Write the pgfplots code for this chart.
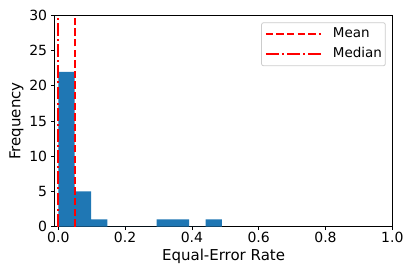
\documentclass[border=0pt]{standalone}
\usepackage{fontspec}
\setmainfont{DejaVu Sans}
\usepackage{pgfplots}
\pgfplotsset{compat=1.18}
\definecolor{tabblue}{HTML}{1F77B4}
\begin{document}
\begin{tikzpicture}
\path[use as bounding box] (-54.8pt,-50.5pt) rectangle (360.2pt,226.5pt);
\begin{axis}[
  scale only axis,
  width=337.5pt, height=211pt,
  xmin=-0.0105, xmax=1.0,
  ymin=0, ymax=30,
  xtick={0,0.2,0.4,0.6,0.8,1.0},
  ytick={0,5,10,15,20,25,30},
  xtick pos=bottom, ytick pos=left,
  tick align=outside,
  major tick length=3.5pt,
  tick style={black, line width=0.8pt},
  axis line style={black, line width=0.8pt},
  /pgf/number format/assume math mode=true,
  x tick label style={/pgf/number format/.cd, fixed, fixed zerofill, precision=1, /tikz/.cd, font=\fontsize{14}{16}\selectfont, inner sep=0pt, anchor=north, yshift=-1.5pt},
  y tick label style={font=\fontsize{14}{16}\selectfont, inner sep=0pt, anchor=east, xshift=-4pt},
  every axis x label/.style={at={(rel axis cs:0.5,0)}, yshift=-34.2pt, anchor=base, font=\fontsize{15}{18}\selectfont},
  every axis y label/.style={at={(rel axis cs:0,0.5)}, xshift=-34.3pt, rotate=90, anchor=base, font=\fontsize{15}{18}\selectfont},
  xlabel={Equal-Error Rate},
  ylabel={Frequency},
  legend image code/.code={\draw[#1] (0pt,0pt) -- (55pt,0pt);},
  legend style={at={(0.9804,0.9678)}, anchor=north east, draw=black!20, line width=0.8pt, rounded corners=2pt, fill=white, fill opacity=0.8, text opacity=1, inner xsep=3.3pt, inner ysep=5pt, row sep=6.5pt, column sep=11pt, font=\fontsize{13.5}{16}\selectfont, nodes={inner sep=0pt, text height=10.3pt, text depth=3pt}},
  legend cell align=left,
]
\addplot[ybar interval, fill=tabblue, draw=none, forget plot] coordinates {
  (0.000,22) (0.049,5) (0.098,1) (0.147,0) (0.196,0) (0.245,0) (0.294,1) (0.343,1) (0.392,0) (0.441,1) (0.490,1)
};
\addplot[red, line width=2pt, dash pattern=on 7.4pt off 3.2pt] coordinates {(0.049,0) (0.049,30)};
\addlegendentry{Mean}
\addplot[red, line width=2pt, dash pattern=on 12.8pt off 3.2pt on 2pt off 3.2pt] coordinates {(0.0,0) (0.0,30)};
\addlegendentry{Median}
\end{axis}
\end{tikzpicture}
\end{document}
